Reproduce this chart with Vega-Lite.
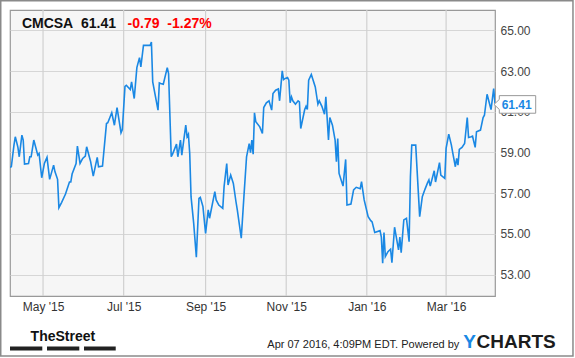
{
  "$schema": "https://vega.github.io/schema/vega-lite/v6.json",
  "autosize": {"type": "none"},
  "width": 485,
  "height": 286,
  "padding": {"left": 10, "top": 10, "right": 80, "bottom": 62},
  "background": "white",
  "config": {
    "font": "Liberation Sans",
    "view": {"fill": "#f6f6f6", "stroke": "#999999", "strokeWidth": 1.2},
    "axis": {"gridColor": "#d6d6d6", "gridWidth": 1, "domain": false, "ticks": false, "labelFont": "Liberation Sans", "labelFontSize": 12}
  },
  "resolve": {"axis": {"x": "independent", "y": "independent"}},
  "datasets": {
    "prices": [
      {"date": "2015-04-06", "close": 58.27},
      {"date": "2015-04-07", "close": 58.30},
      {"date": "2015-04-09", "close": 59.36},
      {"date": "2015-04-10", "close": 59.77},
      {"date": "2015-04-12", "close": 59.25},
      {"date": "2015-04-13", "close": 58.79},
      {"date": "2015-04-15", "close": 59.85},
      {"date": "2015-04-16", "close": 59.61},
      {"date": "2015-04-17", "close": 58.43},
      {"date": "2015-04-20", "close": 58.46},
      {"date": "2015-04-21", "close": 58.79},
      {"date": "2015-04-22", "close": 58.79},
      {"date": "2015-04-24", "close": 59.61},
      {"date": "2015-04-26", "close": 59.12},
      {"date": "2015-04-27", "close": 58.87},
      {"date": "2015-04-28", "close": 58.95},
      {"date": "2015-04-30", "close": 57.76},
      {"date": "2015-05-02", "close": 58.46},
      {"date": "2015-05-04", "close": 58.76},
      {"date": "2015-05-06", "close": 57.68},
      {"date": "2015-05-09", "close": 58.38},
      {"date": "2015-05-10", "close": 58.06},
      {"date": "2015-05-12", "close": 57.68},
      {"date": "2015-05-13", "close": 56.29},
      {"date": "2015-05-15", "close": 56.54},
      {"date": "2015-05-18", "close": 56.96},
      {"date": "2015-05-21", "close": 57.55},
      {"date": "2015-05-22", "close": 57.55},
      {"date": "2015-05-23", "close": 57.94},
      {"date": "2015-05-26", "close": 58.46},
      {"date": "2015-05-27", "close": 59.31},
      {"date": "2015-05-29", "close": 58.46},
      {"date": "2015-05-31", "close": 58.71},
      {"date": "2015-06-02", "close": 58.82},
      {"date": "2015-06-03", "close": 59.28},
      {"date": "2015-06-05", "close": 58.79},
      {"date": "2015-06-06", "close": 58.55},
      {"date": "2015-06-08", "close": 57.84},
      {"date": "2015-06-11", "close": 58.76},
      {"date": "2015-06-12", "close": 58.30},
      {"date": "2015-06-15", "close": 58.33},
      {"date": "2015-06-18", "close": 60.42},
      {"date": "2015-06-19", "close": 60.46},
      {"date": "2015-06-22", "close": 60.95},
      {"date": "2015-06-24", "close": 60.34},
      {"date": "2015-06-26", "close": 61.21},
      {"date": "2015-06-29", "close": 59.97},
      {"date": "2015-06-30", "close": 60.13},
      {"date": "2015-07-02", "close": 62.25},
      {"date": "2015-07-03", "close": 62.30},
      {"date": "2015-07-06", "close": 62.09},
      {"date": "2015-07-07", "close": 62.47},
      {"date": "2015-07-09", "close": 61.65},
      {"date": "2015-07-11", "close": 63.17},
      {"date": "2015-07-13", "close": 63.66},
      {"date": "2015-07-14", "close": 63.20},
      {"date": "2015-07-16", "close": 64.26},
      {"date": "2015-07-19", "close": 64.26},
      {"date": "2015-07-21", "close": 64.26},
      {"date": "2015-07-22", "close": 64.43},
      {"date": "2015-07-23", "close": 62.47},
      {"date": "2015-07-27", "close": 61.08},
      {"date": "2015-07-28", "close": 62.42},
      {"date": "2015-07-29", "close": 62.39},
      {"date": "2015-07-31", "close": 62.35},
      {"date": "2015-08-03", "close": 63.17},
      {"date": "2015-08-04", "close": 62.88},
      {"date": "2015-08-06", "close": 58.79},
      {"date": "2015-08-07", "close": 58.92},
      {"date": "2015-08-10", "close": 59.41},
      {"date": "2015-08-11", "close": 58.79},
      {"date": "2015-08-13", "close": 59.61},
      {"date": "2015-08-14", "close": 58.87},
      {"date": "2015-08-17", "close": 60.34},
      {"date": "2015-08-18", "close": 59.77},
      {"date": "2015-08-19", "close": 59.90},
      {"date": "2015-08-20", "close": 58.95},
      {"date": "2015-08-21", "close": 56.83},
      {"date": "2015-08-23", "close": 55.52},
      {"date": "2015-08-25", "close": 53.86},
      {"date": "2015-08-27", "close": 56.75},
      {"date": "2015-08-28", "close": 56.80},
      {"date": "2015-08-30", "close": 56.34},
      {"date": "2015-09-01", "close": 55.03},
      {"date": "2015-09-03", "close": 56.18},
      {"date": "2015-09-04", "close": 55.77},
      {"date": "2015-09-08", "close": 57.08},
      {"date": "2015-09-09", "close": 56.67},
      {"date": "2015-09-11", "close": 56.42},
      {"date": "2015-09-14", "close": 56.26},
      {"date": "2015-09-15", "close": 57.32},
      {"date": "2015-09-17", "close": 58.46},
      {"date": "2015-09-18", "close": 57.40},
      {"date": "2015-09-20", "close": 57.89},
      {"date": "2015-09-22", "close": 57.48},
      {"date": "2015-09-24", "close": 56.58},
      {"date": "2015-09-25", "close": 56.18},
      {"date": "2015-09-28", "close": 54.79},
      {"date": "2015-09-30", "close": 56.83},
      {"date": "2015-10-02", "close": 58.79},
      {"date": "2015-10-04", "close": 59.44},
      {"date": "2015-10-05", "close": 58.99},
      {"date": "2015-10-06", "close": 59.61},
      {"date": "2015-10-07", "close": 58.92},
      {"date": "2015-10-08", "close": 60.95},
      {"date": "2015-10-09", "close": 60.51},
      {"date": "2015-10-12", "close": 60.26},
      {"date": "2015-10-14", "close": 59.93},
      {"date": "2015-10-15", "close": 61.21},
      {"date": "2015-10-17", "close": 61.44},
      {"date": "2015-10-19", "close": 61.54},
      {"date": "2015-10-21", "close": 61.08},
      {"date": "2015-10-22", "close": 61.90},
      {"date": "2015-10-24", "close": 62.06},
      {"date": "2015-10-26", "close": 62.12},
      {"date": "2015-10-27", "close": 61.54},
      {"date": "2015-10-29", "close": 63.01},
      {"date": "2015-10-30", "close": 62.58},
      {"date": "2015-10-31", "close": 62.63},
      {"date": "2015-11-02", "close": 62.68},
      {"date": "2015-11-03", "close": 62.55},
      {"date": "2015-11-04", "close": 61.44},
      {"date": "2015-11-05", "close": 61.73},
      {"date": "2015-11-06", "close": 61.54},
      {"date": "2015-11-08", "close": 61.37},
      {"date": "2015-11-10", "close": 61.54},
      {"date": "2015-11-11", "close": 61.49},
      {"date": "2015-11-12", "close": 60.18},
      {"date": "2015-11-15", "close": 61.11},
      {"date": "2015-11-16", "close": 61.27},
      {"date": "2015-11-17", "close": 61.11},
      {"date": "2015-11-18", "close": 62.55},
      {"date": "2015-11-20", "close": 62.83},
      {"date": "2015-11-23", "close": 62.22},
      {"date": "2015-11-25", "close": 61.37},
      {"date": "2015-11-26", "close": 61.54},
      {"date": "2015-11-28", "close": 61.27},
      {"date": "2015-11-30", "close": 60.88},
      {"date": "2015-12-01", "close": 61.73},
      {"date": "2015-12-03", "close": 59.61},
      {"date": "2015-12-04", "close": 60.72},
      {"date": "2015-12-06", "close": 60.34},
      {"date": "2015-12-08", "close": 59.61},
      {"date": "2015-12-09", "close": 58.55},
      {"date": "2015-12-10", "close": 59.69},
      {"date": "2015-12-11", "close": 57.97},
      {"date": "2015-12-14", "close": 57.35},
      {"date": "2015-12-16", "close": 58.66},
      {"date": "2015-12-17", "close": 56.42},
      {"date": "2015-12-20", "close": 56.47},
      {"date": "2015-12-22", "close": 57.16},
      {"date": "2015-12-24", "close": 57.29},
      {"date": "2015-12-27", "close": 57.22},
      {"date": "2015-12-28", "close": 57.57},
      {"date": "2015-12-30", "close": 56.67},
      {"date": "2016-01-02", "close": 55.85},
      {"date": "2016-01-04", "close": 55.65},
      {"date": "2016-01-05", "close": 55.59},
      {"date": "2016-01-07", "close": 55.07},
      {"date": "2016-01-11", "close": 55.16},
      {"date": "2016-01-12", "close": 54.84},
      {"date": "2016-01-13", "close": 53.56},
      {"date": "2016-01-14", "close": 55.07},
      {"date": "2016-01-15", "close": 53.89},
      {"date": "2016-01-17", "close": 54.13},
      {"date": "2016-01-19", "close": 54.25},
      {"date": "2016-01-20", "close": 53.59},
      {"date": "2016-01-22", "close": 55.33},
      {"date": "2016-01-25", "close": 54.22},
      {"date": "2016-01-26", "close": 54.84},
      {"date": "2016-01-27", "close": 54.08},
      {"date": "2016-01-29", "close": 55.69},
      {"date": "2016-01-31", "close": 55.77},
      {"date": "2016-02-02", "close": 54.62},
      {"date": "2016-02-03", "close": 57.81},
      {"date": "2016-02-04", "close": 59.36},
      {"date": "2016-02-07", "close": 59.36},
      {"date": "2016-02-10", "close": 55.85},
      {"date": "2016-02-12", "close": 56.83},
      {"date": "2016-02-14", "close": 57.19},
      {"date": "2016-02-16", "close": 57.52},
      {"date": "2016-02-17", "close": 57.65},
      {"date": "2016-02-18", "close": 57.35},
      {"date": "2016-02-21", "close": 58.10},
      {"date": "2016-02-22", "close": 57.55},
      {"date": "2016-02-25", "close": 58.50},
      {"date": "2016-02-26", "close": 57.89},
      {"date": "2016-02-29", "close": 57.73},
      {"date": "2016-03-01", "close": 59.20},
      {"date": "2016-03-03", "close": 59.90},
      {"date": "2016-03-05", "close": 59.36},
      {"date": "2016-03-06", "close": 58.99},
      {"date": "2016-03-08", "close": 58.30},
      {"date": "2016-03-09", "close": 58.71},
      {"date": "2016-03-10", "close": 58.38},
      {"date": "2016-03-11", "close": 59.15},
      {"date": "2016-03-13", "close": 59.25},
      {"date": "2016-03-15", "close": 59.44},
      {"date": "2016-03-17", "close": 60.72},
      {"date": "2016-03-18", "close": 59.74},
      {"date": "2016-03-20", "close": 59.77},
      {"date": "2016-03-21", "close": 59.80},
      {"date": "2016-03-23", "close": 59.25},
      {"date": "2016-03-24", "close": 60.02},
      {"date": "2016-03-27", "close": 60.10},
      {"date": "2016-03-29", "close": 60.72},
      {"date": "2016-03-30", "close": 60.83},
      {"date": "2016-04-01", "close": 61.86},
      {"date": "2016-04-04", "close": 61.11},
      {"date": "2016-04-06", "close": 62.14},
      {"date": "2016-04-07", "close": 61.41}
    ],
    "gridDates": [
      {"date": "2015-05-01"},
      {"date": "2015-07-01"},
      {"date": "2015-09-01"},
      {"date": "2015-11-01"},
      {"date": "2016-01-01"},
      {"date": "2016-03-01"}
    ],
    "last": [{"date": "2016-04-07", "close": 61.41, "label": "61.41"}]
  },
  "layer": [
    {
      "data": {"name": "gridDates"},
      "mark": {"type": "rule", "color": "#d0d0d0", "strokeWidth": 1.2, "strokeOpacity": 1},
      "encoding": {
        "x": {"field": "date", "type": "temporal", "axis": null},
        "y": {"datum": 66, "type": "quantitative", "axis": null},
        "y2": {"datum": 51.95}
      }
    },
    {
      "data": {"name": "prices"},
      "mark": {"type": "line", "color": "#1a88e4", "strokeWidth": 1.6, "clip": true},
      "encoding": {
        "x": {
          "field": "date", "type": "temporal",
          "scale": {"type": "utc", "domain": [{"year": 2015, "month": 4, "date": 6, "utc": true}, {"year": 2016, "month": 4, "date": 7, "utc": true}]},
          "axis": {
            "tickCount": {"interval": "month", "step": 2},
            "grid": false, "labelOverlap": false,
            "labelExpr": "utcFormat(datum.value, \"%b '%y\")",
            "labelColor": "#333333", "labelPadding": 5, "title": null
          }
        },
        "y": {
          "field": "close", "type": "quantitative",
          "scale": {"domain": [51.95, 66], "zero": false, "nice": false},
          "axis": {"orient": "right", "grid": true, "values": [53, 55, 57, 59, 61, 63, 65], "format": ".2f", "labelColor": "#444444", "labelPadding": 5, "title": null}
        }
      }
    },
    {
      "data": {"name": "last"},
      "mark": {"type": "point", "shape": "M -1 1 L 4.3 -4 L 4.3 -7.8 L 40.7 -7.8 L 40.7 9.8 L 4.3 9.8 L 4.3 6 Z", "size": 4, "filled": true, "fill": "white", "stroke": "#999999", "strokeWidth": 1, "opacity": 1, "fillOpacity": 1},
      "encoding": {
        "x": {"field": "date", "type": "temporal", "axis": null},
        "y": {"field": "close", "type": "quantitative", "axis": null}
      }
    },
    {
      "data": {"name": "last"},
      "mark": {"type": "text", "color": "#1a88e4", "fontWeight": "bold", "fontSize": 12, "align": "center", "baseline": "middle", "dx": 21.7, "dy": 1.5},
      "encoding": {
        "x": {"field": "date", "type": "temporal", "axis": null},
        "y": {"field": "close", "type": "quantitative", "axis": null},
        "text": {"field": "label"}
      }
    },
    {
      "data": {"name": "last"},
      "mark": {"type": "text", "color": "#111111", "fontWeight": "bold", "fontSize": 14, "align": "left", "baseline": "alphabetic"},
      "encoding": {
        "x": {"datum": {"year": 2015, "month": 4, "date": 15, "utc": true}, "type": "temporal", "axis": null},
        "y": {"datum": 65.1, "type": "quantitative", "axis": null},
        "text": {"value": "CMCSA\u00a0 61.41"}
      }
    },
    {
      "data": {"name": "last"},
      "mark": {"type": "text", "color": "#ff0000", "fontWeight": "bold", "fontSize": 14, "align": "left", "baseline": "alphabetic"},
      "encoding": {
        "x": {"datum": {"year": 2015, "month": 7, "date": 4, "utc": true}, "type": "temporal", "axis": null},
        "y": {"datum": 65.1, "type": "quantitative", "axis": null},
        "text": {"value": "-0.79\u00a0 -1.27%"}
      }
    },
    {
      "data": {"name": "last"},
      "mark": {"type": "text", "color": "#222222", "fontSize": 11, "align": "right", "baseline": "alphabetic"},
      "encoding": {
        "x": {"datum": {"year": 2016, "month": 3, "date": 11, "utc": true}, "type": "temporal", "axis": null},
        "y": {"datum": 49.41, "type": "quantitative", "axis": null},
        "text": {"value": "Apr 07 2016, 4:09PM EDT. Powered by"}
      }
    },
    {
      "data": {"name": "last"},
      "mark": {"type": "text", "color": "#1a88e4", "fontWeight": "bold", "fontSize": 19, "align": "left", "baseline": "alphabetic"},
      "encoding": {
        "x": {"datum": {"year": 2016, "month": 3, "date": 14, "utc": true}, "type": "temporal", "axis": null},
        "y": {"datum": 49.38, "type": "quantitative", "axis": null},
        "text": {"value": "Y"}
      }
    },
    {
      "data": {"name": "last"},
      "mark": {"type": "text", "color": "#1c1c1c", "fontWeight": "bold", "fontSize": 19, "align": "left", "baseline": "alphabetic"},
      "encoding": {
        "x": {"datum": {"year": 2016, "month": 3, "date": 24, "utc": true}, "type": "temporal", "axis": null},
        "y": {"datum": 49.38, "type": "quantitative", "axis": null},
        "text": {"value": "CHARTS"}
      }
    },
    {
      "data": {"name": "last"},
      "mark": {"type": "text", "color": "#111111", "fontWeight": "bold", "fontSize": 14, "font": "Liberation Sans Narrow, Liberation Sans", "align": "center", "baseline": "alphabetic"},
      "encoding": {
        "x": {"datum": {"year": 2015, "month": 5, "date": 16, "utc": true}, "type": "temporal", "axis": null},
        "y": {"datum": 49.74, "type": "quantitative", "axis": null},
        "text": {"value": "TheStreet"}
      }
    },
    {
      "data": {"name": "last"},
      "mark": {"type": "rule", "color": "#222222", "strokeWidth": 4, "strokeDash": [32.3, 4.7]},
      "encoding": {
        "x": {"datum": {"year": 2015, "month": 4, "date": 6, "utc": true}, "type": "temporal", "axis": null},
        "x2": {"datum": {"year": 2015, "month": 6, "date": 25, "utc": true}},
        "y": {"datum": 49.37, "type": "quantitative", "axis": null}
      }
    },
    {
      "data": {"name": "last"},
      "mark": {"type": "rect", "fill": null, "fillOpacity": 0, "stroke": "#8a8a8a", "strokeWidth": 1.5},
      "encoding": {
        "x": {"datum": {"year": 2015, "month": 3, "date": 30, "utc": true}, "type": "temporal", "axis": null},
        "x2": {"datum": {"year": 2016, "month": 6, "date": 5, "utc": true}},
        "y": {"datum": 66.45, "type": "quantitative", "axis": null},
        "y2": {"datum": 49.0}
      }
    }
  ]
}
